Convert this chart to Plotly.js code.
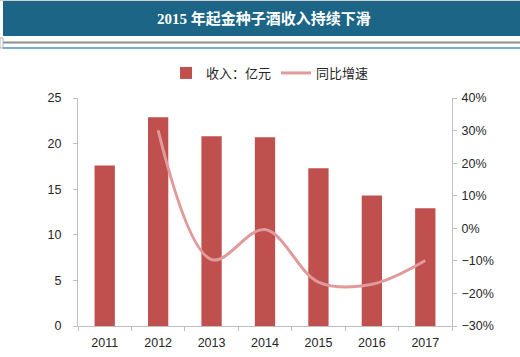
<!DOCTYPE html>
<html>
<head>
<meta charset="utf-8">
<script src="https://cdn.plot.ly/plotly-3.0.1.min.js"></script>
<style>html,body{margin:0;padding:0;background:#fff;}#chart{width:520px;height:357px;}</style>
</head>
<body>
<div id="chart"></div>
<script>
var years = ["2011", "2012", "2013", "2014", "2015", "2016", "2017"];
var revenue = [17.6, 22.9, 20.8, 20.7, 17.3, 14.3, 12.9];
var growthYears = ["2012", "2013", "2014", "2015", "2016", "2017"];
var growth = [30.1, -9.6, -0.4, -16.5, -17.2, -9.9];
var leftTicks = [0, 5, 10, 15, 20, 25];
var rightTicks = [-30, -20, -10, 0, 10, 20, 30, 40];
var rightTickText = rightTicks.map(function (v) { return (v < 0 ? '\u2212' : '') + Math.abs(v) + '%'; });

var cjk = '"Liberation Serif", "Noto Sans CJK SC", serif';
var tickFont = {family: '"Liberation Sans", Arial, sans-serif', size: 12.5, color: '#262626'};

var traces = [
  {
    type: 'bar', name: '收入：亿元', x: years, y: revenue,
    marker: {color: '#c0504d'}, hoverinfo: 'x+y'
  },
  {
    type: 'scatter', mode: 'lines', name: '同比增速', x: growthYears, y: growth,
    yaxis: 'y2', line: {color: '#e09a99', width: 3, shape: 'spline', smoothing: 1}
  }
];

var L = 78, R = 452, T = 98, B = 326;
function pxX(x) { return (x - L) / (R - L); }
function pxY(y) { return (B - y) / (B - T); }

var layout = {
  width: 520, height: 357,
  margin: {l: L, r: 520 - R, t: T, b: 357 - B, pad: 0, autoexpand: false},
  paper_bgcolor: '#ffffff', plot_bgcolor: '#ffffff',
  showlegend: true,
  bargap: 0.62,
  title: {
    text: '<b>2015 年起金种子酒收入持续下滑</b>',
    font: {family: cjk, size: 15, color: '#ffffff'},
    x: 264 / 520, xref: 'container', xanchor: 'center',
    y: 1 - 19 / 357, yref: 'container', yanchor: 'middle'
  },
  legend: {
    orientation: 'h', x: pxX(270), xref: 'paper', xanchor: 'center',
    y: pxY(73), yref: 'paper', yanchor: 'middle',
    font: {family: cjk, size: 13, color: '#262626'},
    itemwidth: 30, bgcolor: 'rgba(0,0,0,0)'
  },
  xaxis: {
    type: 'category', showgrid: false, zeroline: false,
    showline: true, linecolor: '#bfbfbf', linewidth: 1,
    ticks: 'outside', tickson: 'boundaries', ticklen: 4, tickcolor: '#bfbfbf',
    tickfont: tickFont, tickangle: 0, automargin: false, ticklabelstandoff: 5
  },
  yaxis: {
    range: [0, 25], tickvals: leftTicks, showgrid: false, zeroline: false,
    showline: true, linecolor: '#bfbfbf', linewidth: 1,
    ticks: 'outside', ticklen: 4, tickcolor: '#bfbfbf', tickfont: tickFont, automargin: false,
    ticklabelstandoff: 9
  },
  yaxis2: {
    overlaying: 'y', side: 'right', range: [-30, 40], tickvals: rightTicks, ticktext: rightTickText,
    showgrid: false, zeroline: false,
    showline: true, linecolor: '#bfbfbf', linewidth: 1,
    ticks: 'outside', ticklen: 4, tickcolor: '#bfbfbf', tickfont: tickFont, automargin: false,
    ticklabelstandoff: 2
  },
  shapes: [
    {type: 'rect', xref: 'paper', yref: 'paper', x0: pxX(3), x1: pxX(521), y0: pxY(36), y1: pxY(1),
     fillcolor: '#1c6586', line: {width: 0}, layer: 'below'},
    {type: 'line', xref: 'paper', yref: 'paper', x0: pxX(0), x1: pxX(521), y0: pxY(0.5), y1: pxY(0.5),
     line: {color: '#d0d0d0', width: 1}, layer: 'below'},
    {type: 'line', xref: 'paper', yref: 'paper', x0: pxX(3), x1: pxX(521), y0: pxY(42.5), y1: pxY(42.5),
     line: {color: '#8c8c8c', width: 2}, layer: 'below'},
    {type: 'line', xref: 'paper', yref: 'paper', x0: pxX(3), x1: pxX(521), y0: pxY(48), y1: pxY(48),
     line: {color: '#4a93b6', width: 1.5}, layer: 'below'},
    {type: 'rect', xref: 'paper', yref: 'paper', x0: pxX(0), x1: pxX(3), y0: pxY(48), y1: pxY(38),
     fillcolor: 'rgba(0,0,0,0)', line: {color: '#b0b0b0', width: 1}, layer: 'below'}
  ]
};

Plotly.newPlot('chart', traces, layout, {displayModeBar: false, staticPlot: true});
</script>
</body>
</html>
